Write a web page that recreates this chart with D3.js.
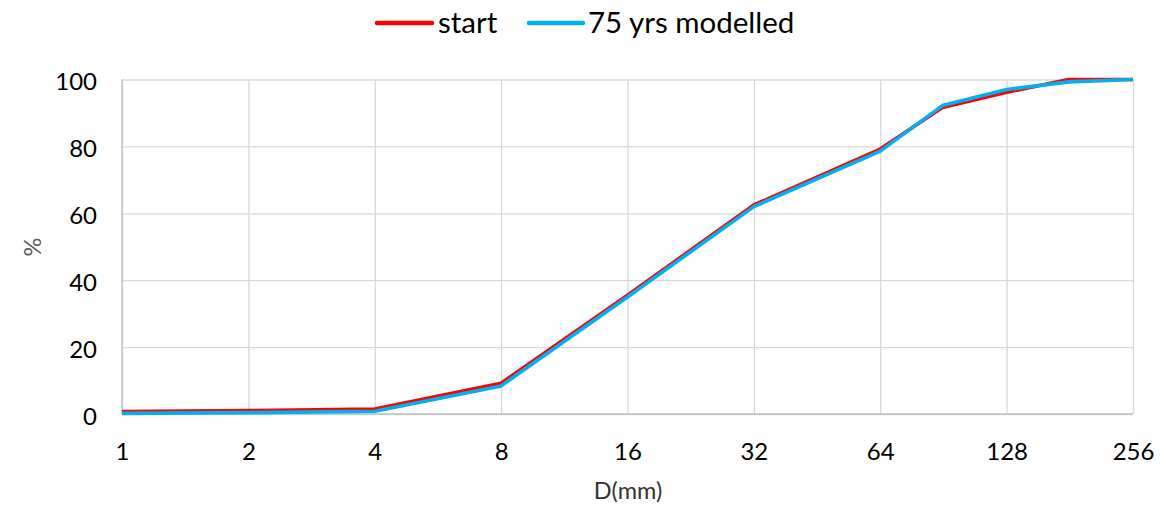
<!DOCTYPE html>
<html>
<head>
<meta charset="utf-8">
<script src="https://cdn.jsdelivr.net/npm/d3@7"></script>
<style>
  html, body { margin: 0; padding: 0; background: #fff; }
  svg { display: block; font-family: Lato, "Open Sans", sans-serif; }
</style>
</head>
<body>
<svg id="chart" width="1163" height="507"></svg>
<script>
// Grain size (mm) and cumulative percent finer
const sizes = [1, 2, 4, 8, 16, 32, 64, 90, 128, 180, 256];
const startPct = [0.7, 1.0, 1.5, 9.2, 35.5, 62.5, 79.2, 91.6, 96.2, 100, 100];
const modelledPct = [0.2, 0.4, 0.8, 8.4, 35.0, 62.0, 78.6, 92.2, 97.0, 99.3, 100];
const xTicks = [1, 2, 4, 8, 16, 32, 64, 128, 256];
const yTicks = [0, 20, 40, 60, 80, 100];
const seriesNames = ["start", "75 yrs modelled"];
const seriesColors = ["#ff0000", "#00b0f0"];

const svg = d3.select("#chart");
const plotL = 122, plotR = 1133, plotT = 79.5, plotB = 414;

const x = d3.scaleLog().base(2).domain([1, 256]).range([plotL, plotR]);
const y = d3.scaleLinear().domain([0, 100]).range([plotB, plotT]);

// Horizontal gridlines with y tick labels
const yAxis = svg.append("g")
  .attr("transform", `translate(${plotL},0)`)
  .call(d3.axisLeft(y).tickValues(yTicks).tickFormat(d3.format("d"))
    .tickSizeInner(-(plotR - plotL)).tickSizeOuter(0).tickPadding(25));
yAxis.select(".domain").remove();
yAxis.selectAll(".tick line").attr("stroke", "#d9d9d9").attr("stroke-width", 1.3);
yAxis.selectAll(".tick text").attr("fill", "#000").attr("font-size", 24)
  .attr("font-family", "Lato").attr("dy", 10);

// Vertical gridlines with x tick labels
const xAxis = svg.append("g")
  .attr("transform", `translate(0,${plotB})`)
  .call(d3.axisBottom(x).tickValues(xTicks).tickFormat(d3.format("d"))
    .tickSizeInner(-(plotB - plotT)).tickSizeOuter(0));
xAxis.select(".domain").remove();
xAxis.selectAll(".tick line").attr("stroke", "#d9d9d9").attr("stroke-width", 1.3);
xAxis.selectAll(".tick text").attr("fill", "#000").attr("font-size", 24)
  .attr("font-family", "Lato").attr("y", 46).attr("dy", 0);

// Axis lines
svg.append("line").attr("x1", plotL).attr("x2", plotL).attr("y1", plotT).attr("y2", plotB)
  .attr("stroke", "#bfbfbf").attr("stroke-width", 1.3);
svg.append("line").attr("x1", plotL).attr("x2", plotR).attr("y1", plotB).attr("y2", plotB)
  .attr("stroke", "#bfbfbf").attr("stroke-width", 1.3);

// Series lines
const line = d3.line().x(d => x(d[0])).y(d => y(d[1]));
[startPct, modelledPct].forEach((vals, i) => {
  svg.append("path")
    .datum(sizes.map((s, j) => [s, vals[j]]))
    .attr("d", line)
    .attr("fill", "none")
    .attr("stroke", seriesColors[i])
    .attr("stroke-width", 3.6)
    .attr("stroke-linejoin", "round");
});

// Axis titles
svg.append("text").attr("x", 628).attr("y", 499).attr("text-anchor", "middle")
  .attr("font-size", 23.5).attr("fill", "#333").text("D(mm)");
svg.append("text").attr("transform", "translate(41,247) rotate(-90)")
  .attr("text-anchor", "middle").attr("font-size", 23.5).attr("fill", "#595959").text("%");

// Legend
const legendItems = [
  { x1: 377, x2: 432, tx: 438 },
  { x1: 529, x2: 583, tx: 588 }
];
legendItems.forEach((it, i) => {
  svg.append("line").attr("x1", it.x1).attr("x2", it.x2).attr("y1", 23).attr("y2", 23)
    .attr("stroke", seriesColors[i]).attr("stroke-width", 4.5).attr("stroke-linecap", "round");
  svg.append("text").attr("x", it.tx).attr("y", 33).attr("font-size", 29.5)
    .attr("fill", "#000").text(seriesNames[i]);
});
</script>
</body>
</html>
